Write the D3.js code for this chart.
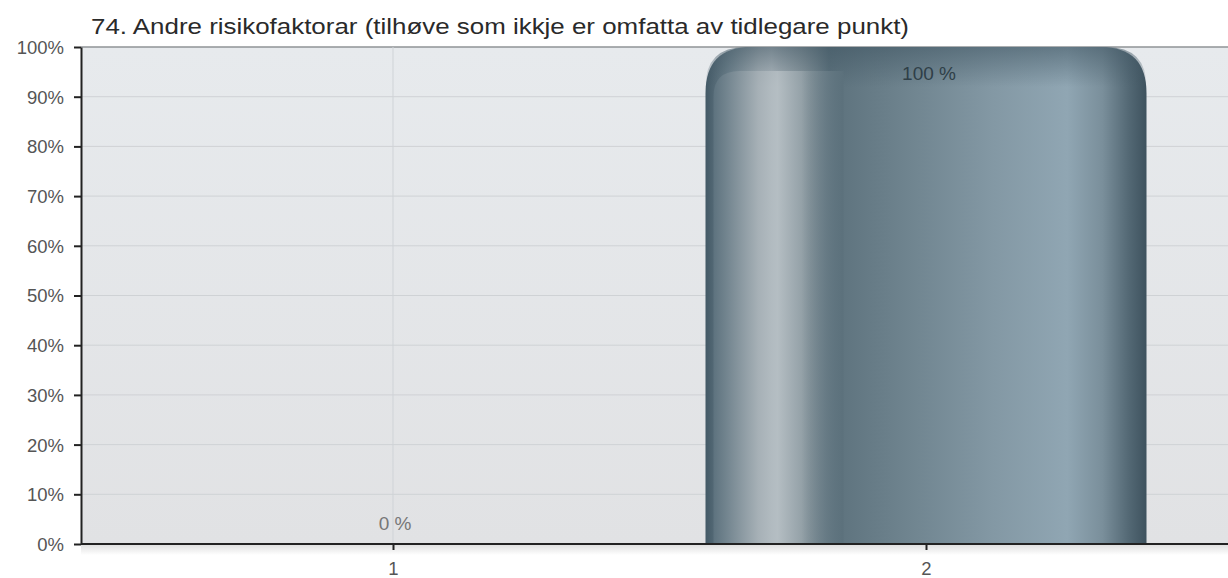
<!DOCTYPE html>
<html><head><meta charset="utf-8">
<script src="https://cdn.jsdelivr.net/npm/d3@7"></script>
<style>body{margin:0;background:#fff;}svg{display:block;font-family:"Liberation Sans",Arial,sans-serif;}</style>
</head><body>
<svg id="c" width="1228" height="578"></svg>
<script>
const title = "74. Andre risikofaktorar (tilhøve som ikkje er omfatta av tidlegare punkt)";
const categories = ["1", "2"];
const values = [0, 100];
const valueLabels = ["0 %", "100 %"];
const yTicks = [0, 10, 20, 30, 40, 50, 60, 70, 80, 90, 100];

const svg = d3.select("#c");
const L = 81, R = 1240, T = 47, B = 544;
const y = d3.scaleLinear().domain([0, 100]).range([B, T]);
const x = d3.scalePoint().domain(categories).range([393, 926]);
const barW = 441;

const defs = svg.append("defs");
const bg = defs.append("linearGradient").attr("id","bg").attr("x1",0).attr("y1",0).attr("x2",0).attr("y2",1);
bg.append("stop").attr("offset","0").attr("stop-color","#e7eaed");
bg.append("stop").attr("offset","1").attr("stop-color","#e1e2e4");
const sh = defs.append("linearGradient").attr("id","sh").attr("x1",0).attr("y1",0).attr("x2",0).attr("y2",1);
sh.append("stop").attr("offset","0").attr("stop-color","#000").attr("stop-opacity",0.12);
sh.append("stop").attr("offset","1").attr("stop-color","#000").attr("stop-opacity",0);

const bar = defs.append("linearGradient").attr("id","bar").attr("x1",0).attr("y1",0).attr("x2",1).attr("y2",0);
[[0,"#435966"],[0.05,"#6d818c"],[0.12,"#a9b3b9"],[0.15,"#b4bdc3"],[0.22,"#8a989f"],[0.28,"#5c717c"],[0.45,"#6e838e"],[0.65,"#8398a4"],[0.82,"#90a6b3"],[0.9,"#7a8f9b"],[0.96,"#536874"],[1,"#3e525e"]]
  .forEach(([o,c]) => bar.append("stop").attr("offset",o).attr("stop-color",c));
const hl = defs.append("linearGradient").attr("id","hl").attr("x1",0).attr("y1",0).attr("x2",1).attr("y2",0);
[[0,"#5f7480"],[0.35,"#a6b0b6"],[0.5,"#b6bfc4"],[0.75,"#8c9aa1"],[1,"#6a7e89"]]
  .forEach(([o,c]) => hl.append("stop").attr("offset",o).attr("stop-color",c));
const topShade = defs.append("linearGradient").attr("id","tops").attr("x1",0).attr("y1",0).attr("x2",0).attr("y2",1);
topShade.append("stop").attr("offset",0).attr("stop-color","#3f5562").attr("stop-opacity",0.55);
topShade.append("stop").attr("offset",1).attr("stop-color","#3f5562").attr("stop-opacity",0);

// plot background
svg.append("rect").attr("x",L).attr("y",T).attr("width",R-L).attr("height",B-T).attr("fill","url(#bg)");
// shadow below axis
svg.append("rect").attr("x",L).attr("y",B+1).attr("width",R-L).attr("height",10).attr("fill","url(#sh)");

// gridlines
svg.append("g").selectAll("line").data(yTicks.filter(d=>d>0)).join("line")
  .attr("x1",L).attr("x2",R).attr("y1",d=>y(d)).attr("y2",d=>y(d))
  .attr("stroke", d=> d===100 ? "#8f9396" : "#cfd2d5").attr("stroke-width", d=> d===100?1.5:1);
svg.append("g").selectAll("line").data(categories).join("line")
  .attr("x1",d=>x(d)).attr("x2",d=>x(d)).attr("y1",T).attr("y2",B)
  .attr("stroke","#cfd3d7");

// bars
const r = 46;
function barPath(cx, top, bottom, w, rad){
  const x0 = cx - w/2, x1 = cx + w/2;
  rad = Math.min(rad, (bottom-top));
  return `M${x0},${bottom} L${x0},${top+rad} Q${x0},${top} ${x0+rad},${top} L${x1-rad},${top} Q${x1},${top} ${x1},${top+rad} L${x1},${bottom} Z`;
}
categories.forEach((c,i) => {
  if (values[i] <= 0) return;
  const cx = x(c), top = y(values[i]);
  svg.append("path").attr("d", barPath(cx, top, B, barW, r)).attr("fill","url(#bar)");
  svg.append("path").attr("d", barPath(cx, top, top+40, barW, r)).attr("fill","url(#tops)");
  // inner highlight panel
  const hx0 = cx - barW/2 + 8, hw = 128, ht = top + 24;
  svg.append("path").attr("d", `M${hx0},${B} L${hx0},${ht+26} Q${hx0},${ht} ${hx0+26},${ht} L${hx0+hw},${ht} L${hx0+hw},${B} Z`)
    .attr("fill","url(#hl)").attr("opacity",0.85);
  const fade = defs.append("linearGradient").attr("id","fade"+i).attr("x1",0).attr("y1",0).attr("x2",1).attr("y2",0);
  fade.append("stop").attr("offset",0).attr("stop-color","#5c717c").attr("stop-opacity",0);
  fade.append("stop").attr("offset",1).attr("stop-color","#5c717c").attr("stop-opacity",1);
  svg.append("rect").attr("x",hx0+hw-40).attr("y",ht).attr("width",42).attr("height",B-ht).attr("fill","url(#fade"+i+")");
});

// value labels
svg.append("g").selectAll("text").data(categories).join("text")
  .attr("x",(d,i)=>x(d)+ (values[i] > 5 ? 3 : 2)).attr("y",(d,i)=> values[i] > 5 ? y(values[i]) + 33 : B - 14)
  .attr("text-anchor","middle").attr("font-size",19)
  .attr("fill",(d,i)=> values[i] > 5 ? "#2f3f48" : "#777")
  .text((d,i)=>valueLabels[i]);

// y axis
const yAxis = d3.axisLeft(y).tickValues(yTicks).tickFormat(d=>d+"%").tickSize(7).tickSizeOuter(0);
const gy = svg.append("g").attr("transform",`translate(${L},0)`).call(yAxis);
gy.select(".domain").attr("stroke","#222").attr("stroke-width",2);
gy.selectAll(".tick line").attr("stroke","#222").attr("stroke-width",2);
gy.selectAll(".tick text").attr("font-size",18.5).attr("fill","#555").attr("font-family","Liberation Sans, Arial, sans-serif").attr("x",-17).attr("dy","0.35em");

// x axis
const xAxis = d3.axisBottom(x).tickSize(6).tickSizeOuter(0);
const gx = svg.append("g").attr("transform",`translate(0,${B})`).call(xAxis);
gx.select(".domain").attr("d",`M${L},0H${R}`).attr("stroke","#222").attr("stroke-width",2);
gx.selectAll(".tick line").attr("stroke","#222").attr("stroke-width",2);
gx.selectAll(".tick text").attr("font-size",18.5).attr("fill","#555").attr("font-family","Liberation Sans, Arial, sans-serif").attr("y",18);

// title
svg.append("text").attr("x",91).attr("y",34).attr("font-size",22.5).attr("fill","#2a2a2a")
  .attr("textLength",818).attr("lengthAdjust","spacingAndGlyphs").text(title);
</script>
</body></html>
